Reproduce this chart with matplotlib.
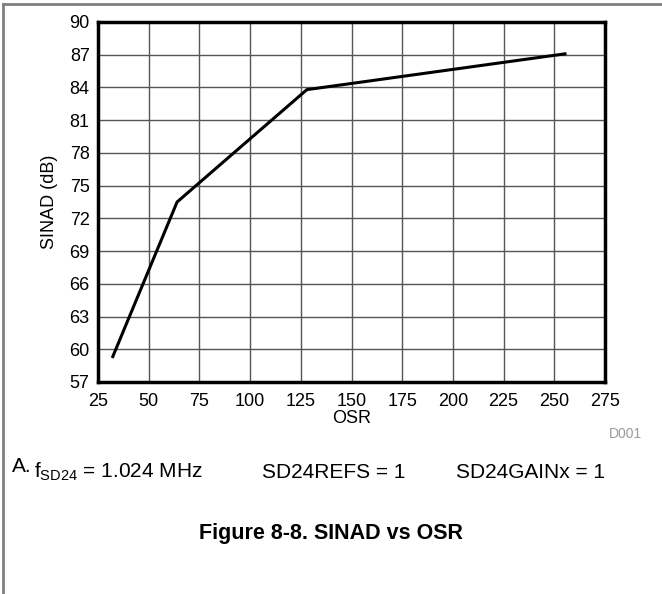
import matplotlib
matplotlib.use('Agg')
import matplotlib.pyplot as plt
from matplotlib.lines import Line2D

plt.rcParams['font.family'] = ['Liberation Sans', 'DejaVu Sans']

# data
osr = [32, 64, 128, 256]
sinad = [59.2, 73.5, 83.8, 87.1]
xticks = [25, 50, 75, 100, 125, 150, 175, 200, 225, 250, 275]
yticks = [57, 60, 63, 66, 69, 72, 75, 78, 81, 84, 87, 90]

W, H = 662, 594
fig = plt.figure(figsize=(W/100, H/100), dpi=100)
ax = fig.add_axes([98/W, 1-382/H, (605-98)/W, (382-22)/H])

ax.plot(osr, sinad, color='black', lw=2.2, solid_capstyle='butt')
ax.set_xlim(25, 275)
ax.set_ylim(57, 90)
ax.set_xticks(xticks)
ax.set_yticks(yticks)
ax.tick_params(length=0, labelsize=13)
ax.tick_params(axis='x', pad=8)
ax.tick_params(axis='y', pad=6)
ax.grid(True, color='#555555', lw=1)
for s in ax.spines.values():
    s.set_linewidth(2.5)
    s.set_zorder(5)
ax.set_xlabel('OSR', fontsize=13, labelpad=0)
ax.set_ylabel('SINAD (dB)', fontsize=13, labelpad=8)

fig.text(625/W, 1-434/H, 'D001', color='#999999', fontsize=10,
         ha='center', va='center')

# note line under the chart
fig.text(12/W, 1-466/H, 'A.', fontsize=15, va='center')
fig.text(34/W, 1-472/H, r'$\mathregular{f_{SD24}}$ = 1.024 MHz',
         fontsize=15, va='center')
fig.text(405/W, 1-472/H, 'SD24REFS = 1', fontsize=15, va='center', ha='right')
fig.text(456/W, 1-472/H, 'SD24GAINx = 1', fontsize=15, va='center')

fig.text(331/W, 1-533/H, 'Figure 8-8. SINAD vs OSR', fontsize=15.5,
         fontweight='bold', ha='center', va='center')

# page frame (top and left edges)
fig.add_artist(Line2D([3/W, 1], [1-4/H, 1-4/H], color='#808080', lw=2,
                      transform=fig.transFigure))
fig.add_artist(Line2D([3/W, 3/W], [0, 1-4/H], color='#808080', lw=2,
                      transform=fig.transFigure))

fig.savefig('out.png', dpi=100)
